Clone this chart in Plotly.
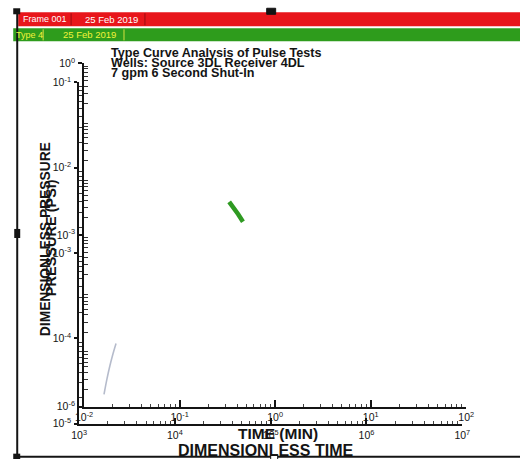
import plotly.graph_objects as go

# Figure canvas and the placement helpers used for all paper-positioned items
W, H = 530, 467
SX, SY, PAD = 0.970, 0.967, 8

# Measured pulse response (Type 4): elapsed time [min] vs pressure [psi]
obs_time_min = [0.33, 0.37, 0.41, 0.46]
obs_pressure_psi = [0.0038, 0.0030, 0.0023, 0.0017]

# Dimensionless type curve: tD vs pD
type_td = [1820, 1950, 2100, 2260, 2430]
type_pd = [2.2e-5, 3.3e-5, 4.8e-5, 6.6e-5, 8.7e-5]

# Decade tick labels for each axis
time_min_ticks = [1e-2, 1e-1, 1e0, 1e1, 1e2]
time_min_labels = ["10<sup>-2</sup>", "10<sup>-1</sup>", "10<sup>0</sup>", "10<sup>1</sup>", "10<sup>2</sup>"]
psi_ticks = [1e0, 1e-3, 1e-6]
psi_labels = ["10<sup>0</sup>", "10<sup>-3</sup>", "10<sup>-6</sup>"]
td_ticks = [1e3, 1e4, 1e5, 1e6, 1e7]
td_labels = ["10<sup>3</sup>", "10<sup>4</sup>", "10<sup>5</sup>", "10<sup>6</sup>", "10<sup>7</sup>"]
pd_ticks = [1e-1, 1e-2, 1e-3, 1e-4, 1e-5]
pd_labels = ["10<sup>-1</sup>", "10<sup>-2</sup>", "10<sup>-3</sup>", "10<sup>-4</sup>", "10<sup>-5</sup>"]


def minor_vals(lo, hi):
    out = []
    for e in range(lo, hi):
        for m in range(2, 10):
            out.append(m * 10.0 ** e)
    return out


def px(x):
    return (x / SX - PAD) / W


def py(y):
    return 1 - (y / SY - PAD) / H


FONT = "Liberation Sans, Arial, sans-serif"
INK = "#141414"

fig = go.Figure()

fig.add_trace(go.Scatter(
    x=type_td, y=type_pd, xaxis="x2", yaxis="y2", mode="lines",
    line=dict(color="rgba(120,132,160,0.55)", width=1.6, shape="spline"),
    hoverinfo="skip", showlegend=False,
))
fig.add_trace(go.Scatter(
    x=obs_time_min, y=obs_pressure_psi, xaxis="x", yaxis="y", mode="lines",
    line=dict(color="#2f9a22", width=4.5),
    hoverinfo="skip", showlegend=False,
))

common = dict(
    type="log", showgrid=False, zeroline=False, showline=True,
    linecolor=INK, linewidth=2, tickcolor=INK,
    tickfont=dict(family=FONT, size=10.5, color=INK),
    tickmode="array", fixedrange=True,
)

fig.update_layout(
    width=W, height=H, autosize=False,
    margin=dict(l=0, r=0, t=0, b=0),
    paper_bgcolor="white", plot_bgcolor="rgba(0,0,0,0)",
    showlegend=False,
    xaxis=dict(
        **common, domain=[px(83), px(466)], anchor="y",
        range=[-2, 2], tickvals=time_min_ticks, ticktext=time_min_labels,
        ticks="inside", ticklen=7, tickwidth=1.5, ticklabelstandoff=0,
        minor=dict(tickmode="array", tickvals=minor_vals(-2, 2),
                   ticks="inside", ticklen=3, tickcolor="#444", tickwidth=1),
    ),
    yaxis=dict(
        **common, domain=[py(405), py(63)], anchor="x",
        range=[-6, 0], tickvals=psi_ticks, ticktext=psi_labels,
        ticks="outside", ticklen=4, tickwidth=1.5, ticklabelstandoff=1,
        minor=dict(tickmode="array", tickvals=minor_vals(-6, 0),
                   ticks="inside", ticklen=4, tickcolor="#333", tickwidth=1),
    ),
    xaxis2=dict(
        **common, domain=[px(78), px(462)], anchor="y2",
        range=[3, 7], tickvals=td_ticks, ticktext=td_labels,
        ticks="inside", ticklen=6, tickwidth=1.5, ticklabelstandoff=1,
        minor=dict(tickmode="array", tickvals=minor_vals(3, 7),
                   ticks="inside", ticklen=3, tickcolor="#444", tickwidth=1),
    ),
    yaxis2=dict(
        **common, domain=[py(422), py(82)], anchor="x2",
        range=[-5, -1], tickvals=pd_ticks, ticktext=pd_labels,
        ticks="outside", ticklen=3, tickwidth=1.5, ticklabelstandoff=1,
        minor=dict(tickmode="array", tickvals=minor_vals(-5, -1),
                   ticks="inside", ticklen=3, tickcolor="#333", tickwidth=1),
    ),
)


def rect(x0, x1, y0, y1, fill, line=None):
    return dict(type="rect", xref="paper", yref="paper",
                x0=px(x0), x1=px(x1), y0=py(y0), y1=py(y1),
                fillcolor=fill, line=line or dict(width=0), layer="above")


def seg(x0, x1, y0, y1, color, width):
    return dict(type="line", xref="paper", yref="paper",
                x0=px(x0), x1=px(x1), y0=py(y0), y1=py(y1),
                line=dict(color=color, width=width), layer="above")


shapes = [
    # header bars
    rect(17, 525, 12, 26, "#e8161b"),
    rect(12, 525, 28, 41, "#2e9c1c"),
    # separators inside the header text
    seg(70, 70, 13, 25, "#9a0c10", 1),
    seg(144, 144, 13, 25, "#9a0c10", 1),
    seg(42, 42, 29, 40, "#d8e040", 1),
    seg(123, 123, 29, 40, "#d8e040", 1),
    # frame border
    seg(16, 16, 12, 456, INK, 2),
    seg(15, 525, 455, 455, INK, 2),
    # frame handles
    rect(12, 19, 8, 14, INK),
    rect(266, 275, 8, 14, INK, dict(color=INK, width=1)),
    rect(13, 19, 228, 237, INK),
    rect(12, 19, 452, 459, INK),
    rect(270, 277, 453, 458, "white", dict(color=INK, width=1)),
]
fig.update_layout(shapes=shapes)

ann = []


def text(x, y, s, size, color=INK, angle=0, xanchor="left", bold=False, family=FONT):
    ann.append(dict(
        x=px(x), y=py(y), xref="paper", yref="paper", showarrow=False,
        text=f"<b>{s}</b>" if bold else s, textangle=angle,
        xanchor=xanchor, yanchor="middle",
        font=dict(family=family, size=size, color=color),
    ))


text(20, 19, "Frame 001", 9, color="white")
text(82, 19, "25 Feb 2019", 9.5, color="white")
text(13, 34.5, "Type 4", 9, color="#f2f23a")
text(60, 34.5, "25 Feb 2019", 9.5, color="#f2f23a")

text(108, 53, "Type Curve Analysis of Pulse Tests", 12.6, bold=True)
text(108, 63, "Wells: Source 3DL Receiver 4DL", 12.6, bold=True)
text(108, 73, "7 gpm 6 Second Shut-In", 12.6, bold=True)

text(45, 238, "DIMENSIONLESS PRESSURE", 13.8, angle=-90, xanchor="center", bold=True)
text(50, 237, "PRESSURE (PSI)", 14.5, angle=-90, xanchor="center", bold=True)
text(277, 432, "TIME (MIN)", 15.5, xanchor="center", bold=True)
text(265, 449, "DIMENSIONLESS TIME", 16, xanchor="center", bold=True)

fig.update_layout(annotations=ann)

fig.write_html("out.html", config=dict(displayModeBar=False))
